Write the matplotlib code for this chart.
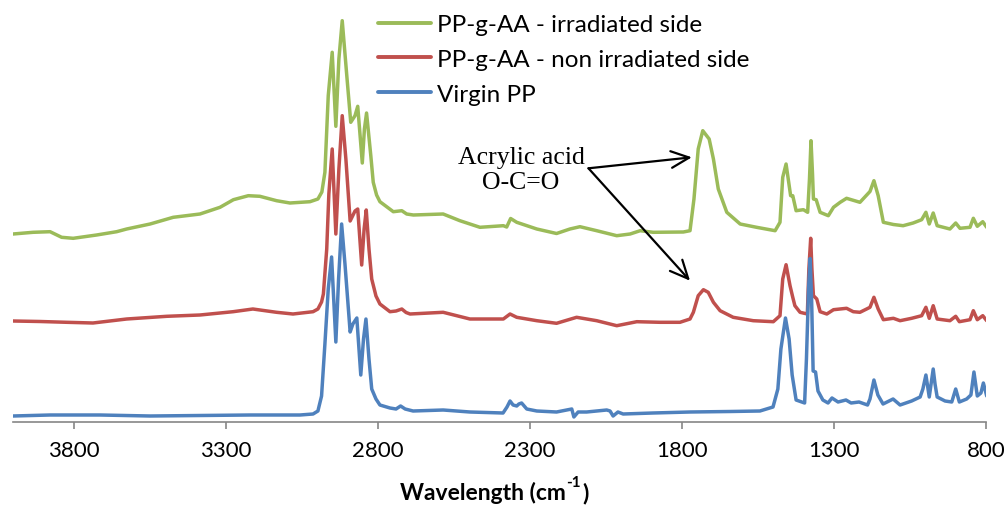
import matplotlib
matplotlib.use("Agg")
import matplotlib.pyplot as plt

plt.rcParams['font.family'] = ['Lato', 'DejaVu Sans']

# FTIR spectra (stacked, arbitrary absorbance units)
green_wn = [4000, 3934, 3878, 3840, 3802, 3725, 3659, 3626, 3549, 3473,
            3385, 3319, 3275, 3226, 3188, 3133, 3089, 3023, 2997, 2984,
            2974, 2963, 2950, 2938, 2928, 2917, 2902, 2889, 2875, 2866,
            2851, 2844, 2837, 2823, 2815, 2804, 2793, 2749, 2721, 2705,
            2683, 2585, 2530, 2464, 2387, 2376, 2363, 2343, 2277, 2212,
            2168, 2135, 2080, 2014, 1970, 1937, 1894, 1795, 1773, 1760,
            1746, 1731, 1710, 1696, 1680, 1652, 1608, 1554, 1493, 1477,
            1468, 1457, 1442, 1435, 1424, 1400, 1386, 1380, 1375, 1370,
            1367, 1358, 1345, 1318, 1301, 1279, 1258, 1214, 1181, 1168,
            1154, 1137, 1104, 1072, 1039, 1011, 997, 986, 973, 960,
            918, 899, 885, 852, 841, 828, 810, 797]
green_abs = [1.880, 1.897, 1.903, 1.847, 1.837, 1.870, 1.903, 1.930, 1.980, 2.047,
             2.080, 2.147, 2.223, 2.263, 2.257, 2.213, 2.190, 2.203, 2.230, 2.300,
             2.497, 3.263, 3.697, 2.957, 3.630, 4.013, 3.463, 2.997, 3.063, 3.157,
             2.590, 2.930, 3.090, 2.663, 2.397, 2.270, 2.203, 2.103, 2.113, 2.080,
             2.070, 2.080, 2.013, 1.947, 1.963, 1.950, 2.035, 1.997, 1.930, 1.885,
             1.930, 1.953, 1.913, 1.863, 1.880, 1.913, 1.897, 1.900, 1.913, 2.230,
             2.730, 2.913, 2.830, 2.630, 2.330, 2.097, 1.980, 1.947, 1.913, 1.997,
             2.447, 2.580, 2.263, 2.263, 2.113, 2.123, 2.097, 2.430, 2.813, 2.480,
             2.230, 2.223, 2.097, 2.063, 2.147, 2.197, 2.237, 2.197, 2.305, 2.413,
             2.263, 1.997, 1.975, 1.963, 1.990, 2.023, 2.097, 1.980, 2.090, 1.963,
             1.930, 1.990, 1.937, 1.947, 2.037, 1.957, 2.003, 1.947]

red_wn = [4000, 3911, 3823, 3737, 3626, 3494, 3385, 3276, 3211, 3133,
          3079, 3013, 2997, 2985, 2979, 2968, 2961, 2950, 2938, 2928,
          2917, 2905, 2891, 2875, 2866, 2853, 2845, 2838, 2829, 2820,
          2806, 2793, 2760, 2740, 2721, 2707, 2694, 2585, 2497, 2387,
          2365, 2343, 2277, 2212, 2146, 2080, 2014, 1948, 1872, 1806,
          1773, 1762, 1746, 1729, 1713, 1696, 1674, 1631, 1565, 1499,
          1477, 1468, 1457, 1444, 1435, 1428, 1411, 1387, 1382, 1376,
          1372, 1367, 1356, 1345, 1323, 1301, 1258, 1236, 1214, 1192,
          1181, 1168, 1154, 1137, 1104, 1082, 1044, 1011, 997, 986,
          973, 960, 918, 899, 887, 852, 841, 828, 810, 797]
red_abs = [1.010, 1.005, 0.997, 0.990, 1.030, 1.057, 1.070, 1.103, 1.130, 1.097,
           1.080, 1.103, 1.130, 1.200, 1.280, 1.730, 2.280, 2.730, 1.880, 2.530,
           3.063, 2.630, 2.010, 2.110, 2.130, 1.570, 1.930, 2.120, 1.730, 1.430,
           1.260, 1.180, 1.103, 1.110, 1.130, 1.095, 1.080, 1.097, 1.030, 1.030,
           1.080, 1.047, 1.013, 0.987, 1.047, 1.013, 0.963, 1.003, 0.997, 0.997,
           1.030, 1.097, 1.263, 1.323, 1.297, 1.197, 1.113, 1.047, 1.013, 1.003,
           1.063, 1.430, 1.573, 1.363, 1.247, 1.163, 1.097, 1.080, 1.530, 1.837,
           1.530, 1.263, 1.230, 1.103, 1.080, 1.123, 1.137, 1.103, 1.097, 1.130,
           1.147, 1.247, 1.130, 1.023, 1.037, 1.013, 1.037, 1.063, 1.147, 1.037,
           1.163, 1.030, 1.013, 1.057, 1.003, 1.023, 1.113, 1.023, 1.063, 1.013]

blue_wn = [4000, 3878, 3714, 3549, 3385, 3220, 3056, 3013, 2997, 2985,
           2974, 2963, 2952, 2938, 2929, 2919, 2908, 2891, 2882, 2869,
           2856, 2847, 2839, 2829, 2820, 2806, 2793, 2760, 2740, 2725,
           2710, 2684, 2585, 2497, 2388, 2375, 2365, 2355, 2343, 2336,
           2327, 2310, 2277, 2212, 2162, 2155, 2141, 2113, 2047, 2036,
           2026, 2010, 1993, 1895, 1773, 1641, 1543, 1500, 1484, 1474,
           1459, 1447, 1437, 1424, 1396, 1390, 1383, 1378, 1373, 1368,
           1360, 1352, 1336, 1319, 1306, 1286, 1260, 1243, 1217, 1189,
           1181, 1168, 1155, 1138, 1105, 1082, 1044, 1016, 1007, 997,
           986, 980, 973, 967, 960, 934, 912, 899, 887, 863,
           849, 839, 828, 816, 808, 797]
blue_abs = [0.060, 0.070, 0.070, 0.060, 0.065, 0.070, 0.070, 0.080, 0.110, 0.260,
            0.780, 1.330, 1.650, 0.800, 1.430, 1.980, 1.580, 0.900, 0.980, 1.040,
            0.470, 0.830, 1.030, 0.630, 0.330, 0.230, 0.170, 0.140, 0.130, 0.160,
            0.130, 0.110, 0.120, 0.100, 0.090, 0.150, 0.210, 0.170, 0.160, 0.180,
            0.190, 0.130, 0.110, 0.100, 0.130, 0.050, 0.100, 0.100, 0.120, 0.110,
            0.060, 0.100, 0.080, 0.090, 0.100, 0.105, 0.110, 0.150, 0.330, 0.730,
            1.040, 0.830, 0.470, 0.220, 0.190, 0.630, 1.330, 1.635, 1.230, 0.510,
            0.500, 0.310, 0.220, 0.190, 0.240, 0.200, 0.220, 0.190, 0.200, 0.170,
            0.230, 0.420, 0.270, 0.180, 0.230, 0.170, 0.210, 0.250, 0.330, 0.470,
            0.250, 0.380, 0.530, 0.380, 0.250, 0.210, 0.200, 0.330, 0.200, 0.230,
            0.270, 0.500, 0.260, 0.290, 0.390, 0.260]

series_labels = ["PP-g-AA - irradiated side",
                 "PP-g-AA - non irradiated side",
                 "Virgin PP"]
series_colors = ["#9BBB59", "#C0504D", "#4F81BD"]

tick_values = [3800, 3300, 2800, 2300, 1800, 1300, 800]
tick_labels = ["3800", "3300", "2800", "2300", "1800", "1300", "800"]

fig = plt.figure(figsize=(10.07, 5.06), dpi=100)
ax = fig.add_axes([13 / 1007, 83 / 506, 972.8 / 1007, 423 / 506])

for wn, ab, lab, col in zip([green_wn, red_wn, blue_wn],
                            [green_abs, red_abs, blue_abs],
                            series_labels, series_colors):
    ax.plot(wn, ab, color=col, lw=2.5, label=lab,
            solid_joinstyle='round', solid_capstyle='round')

ax.set_xlim(4000, 800)
ax.set_ylim(0, 4.23)
ax.set_xticks(tick_values)
ax.set_xticklabels(tick_labels)
ax.set_yticks([])
for side in ['left', 'right', 'top']:
    ax.spines[side].set_visible(False)
ax.spines['bottom'].set_color('#868686')
ax.spines['bottom'].set_linewidth(1.2)
ax.tick_params(axis='x', direction='out', length=5, width=1.2,
               color='#868686', labelsize=16, pad=8, labelcolor='black')
ax.patch.set_visible(False)

# Axis title with a superscript "-1"
title_kw = dict(fontweight='bold', color='black')
t_main = fig.text(400 / 1007, 1 - 504 / 506, "Wavelength (cm",
                  ha='left', va='bottom', fontsize=16.5, **title_kw)
sup = ax.annotate("-1", xy=(1, 0.62), xycoords=t_main, xytext=(0.5, 0),
                  textcoords='offset points', ha='left', va='bottom',
                  fontsize=11, annotation_clip=False, **title_kw)
ax.annotate(")", xy=(1, 0), xycoords=(sup, t_main), xytext=(0.5, 0),
            textcoords='offset points', ha='left', va='bottom',
            fontsize=16.5, annotation_clip=False, **title_kw)

leg = fig.legend(loc='upper left', bbox_to_anchor=(378 / 1007, 1 - 15 / 506),
                 frameon=False, fontsize=17.5, borderpad=0, borderaxespad=0,
                 handlelength=2.2, handletextpad=0.22, labelspacing=0.57)
for line in leg.get_lines():
    line.set_linewidth(2.8)

# Carbonyl band callouts
ax.text(2329, 2.525, "Acrylic acid\nO-C=O", ha='center', va='center',
        fontsize=18.5, family='Liberation Serif', linespacing=1.2)
arrow = dict(arrowstyle='->,head_length=1.3,head_width=0.6',
             color='black', lw=1.6, shrinkA=0, shrinkB=0)
ax.annotate('', xy=(1767, 2.647), xytext=(2107, 2.537), arrowprops=arrow)
ax.annotate('', xy=(1773, 1.413), xytext=(2107, 2.537), arrowprops=arrow)

fig.savefig('out.png', dpi=100)
